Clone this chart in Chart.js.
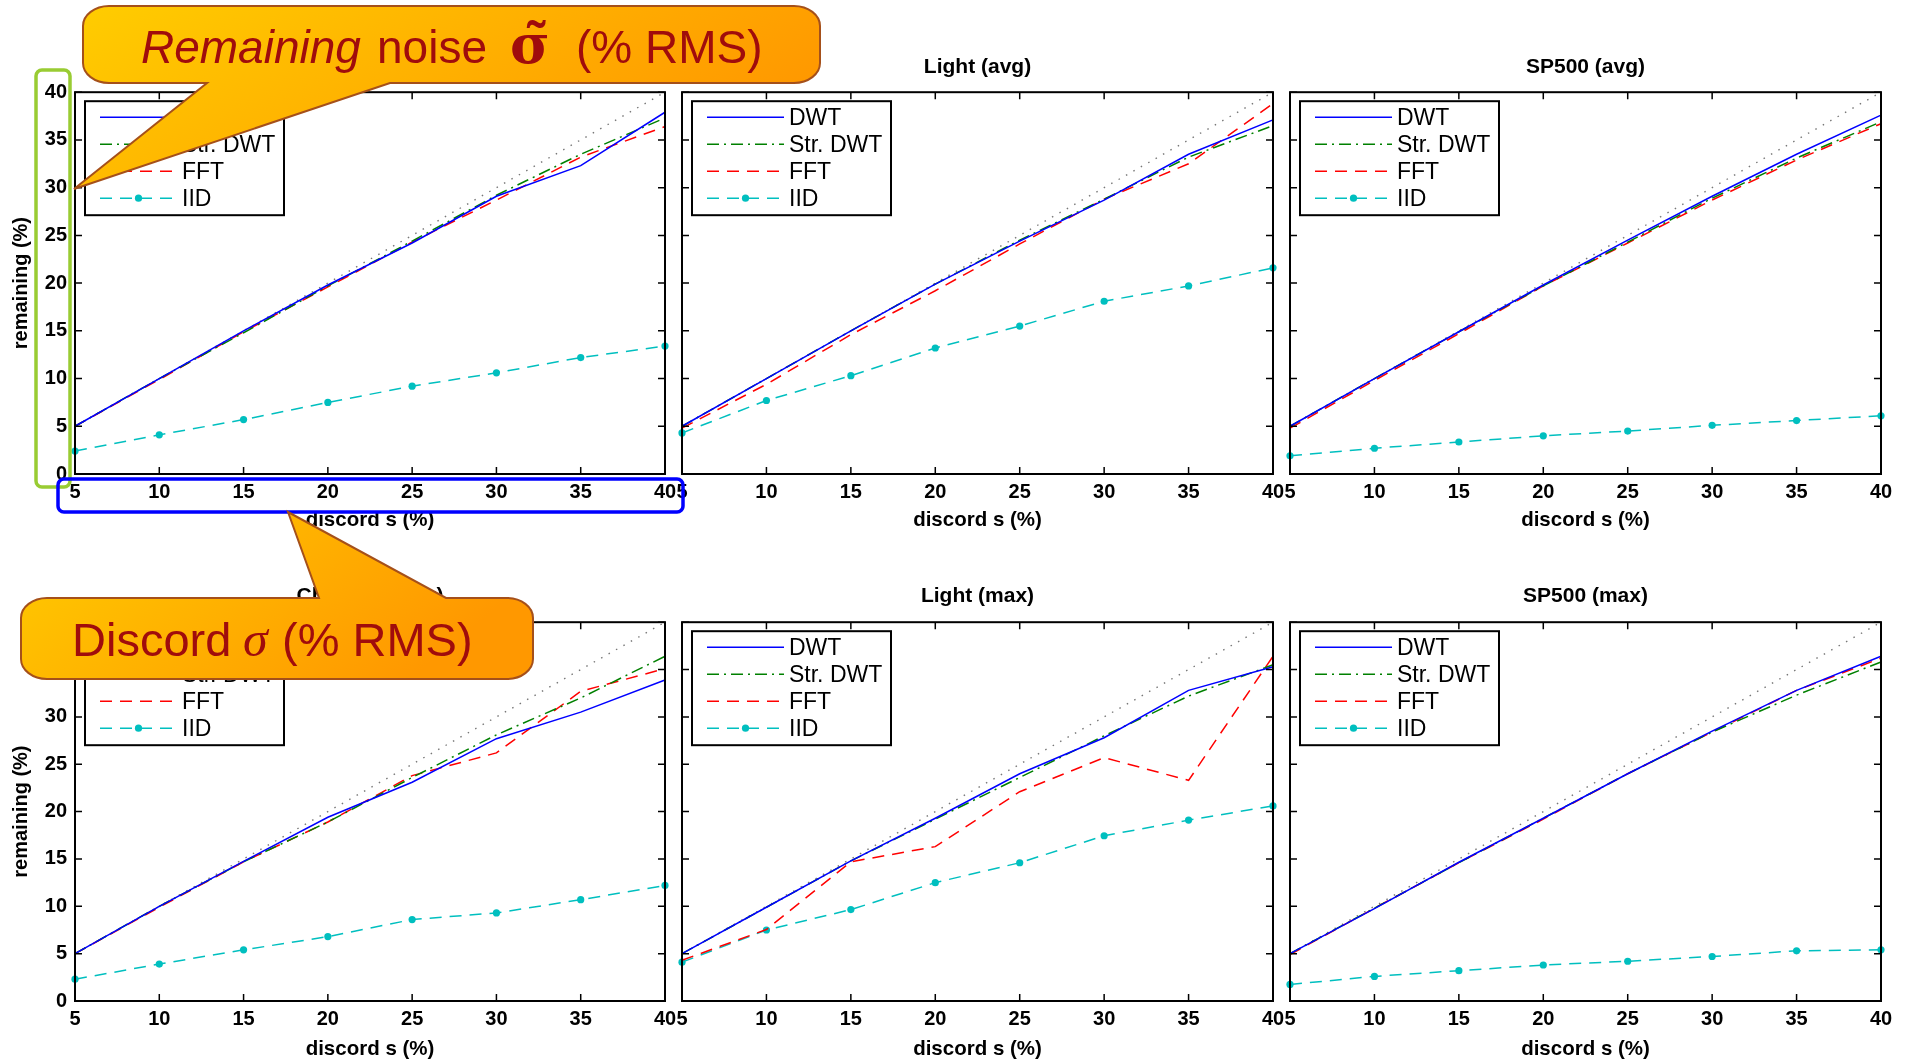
<!DOCTYPE html>
<html>
<head>
<meta charset="utf-8">
<title>Remaining noise vs discord</title>
<script src="https://cdn.jsdelivr.net/npm/chart.js@4.4.1/dist/chart.umd.min.js"></script>
<style>
  html, body { margin: 0; padding: 0; background: #fff; width: 1914px; height: 1064px; overflow: hidden; }
  canvas.panel { position: absolute; }
  #notes { position: absolute; left: 0; top: 0; pointer-events: none; z-index: 10; }
</style>
</head>
<body>
<canvas class="panel" id="p0" width="685" height="545" style="left:0px;top:0px"></canvas>
<canvas class="panel" id="p1" width="641" height="545" style="left:652px;top:0px"></canvas>
<canvas class="panel" id="p2" width="641" height="545" style="left:1260px;top:0px"></canvas>
<canvas class="panel" id="p3" width="685" height="519" style="left:0px;top:545px"></canvas>
<canvas class="panel" id="p4" width="641" height="519" style="left:652px;top:545px"></canvas>
<canvas class="panel" id="p5" width="641" height="519" style="left:1260px;top:545px"></canvas>

<svg id="notes" width="1914" height="1064" viewBox="0 0 1914 1064">
  <defs>
    <linearGradient id="calloutFill" x1="0" y1="0" x2="1" y2="0.4">
      <stop offset="0" stop-color="#ffcd00"/>
      <stop offset="1" stop-color="#ff9800"/>
    </linearGradient>
  </defs>
  <!-- highlight boxes around the tick labels -->
  <rect x="36" y="70" width="34" height="417" rx="6" ry="6" fill="none" stroke="#99cc33" stroke-width="3.5"/>
  <rect x="58" y="479" width="625" height="33" rx="6" ry="6" fill="none" stroke="#0000ff" stroke-width="3.5"/>
  <!-- callout for the vertical axis -->
  <path d="M 109 6 H 794 A 26 20 0 0 1 820 26 V 63 A 26 20 0 0 1 794 83 H 390 L 74 189 L 207 83 H 109 A 26 20 0 0 1 83 63 V 26 A 26 20 0 0 1 109 6 Z"
        fill="url(#calloutFill)" stroke="#a5501a" stroke-width="2"/>
  <text font-family="'Liberation Sans', Arial, sans-serif" font-size="46" fill="#a00c0c">
    <tspan x="141" y="63" font-style="italic">Remaining</tspan>
    <tspan x="377" y="63">noise</tspan>
    <tspan x="510" y="63" font-family="'DejaVu Serif', serif" font-weight="bold" font-size="54">σ̃</tspan>
    <tspan x="576" y="63">(% RMS)</tspan>
  </text>
  <!-- callout for the horizontal axis -->
  <path d="M 47 598 H 319 L 288 512 L 446 598 H 507 A 26 20 0 0 1 533 618 V 659 A 26 20 0 0 1 507 679 H 47 A 26 20 0 0 1 21 659 V 618 A 26 20 0 0 1 47 598 Z"
        fill="url(#calloutFill)" stroke="#a5501a" stroke-width="2"/>
  <text font-family="'Liberation Sans', Arial, sans-serif" font-size="47" fill="#a00c0c">
    <tspan x="72" y="656">Discord</tspan>
    <tspan x="243" y="656" font-family="'Liberation Serif', serif" font-style="italic" font-size="50">σ</tspan>
    <tspan x="282" y="656">(% RMS)</tspan>
  </text>
</svg>

<script>
// ---- data -------------------------------------------------------------
const DISCORD = [5, 10, 15, 20, 25, 30, 35, 40];          // discord s (%)
const X_TICKS = [5, 10, 15, 20, 25, 30, 35, 40];
const Y_TICKS = [0, 5, 10, 15, 20, 25, 30, 35, 40];
const SERIES_NAMES = ['DWT', 'Str. DWT', 'FFT', 'IID'];
const TITLES = ['Chlorine (avg)', 'Light (avg)', 'SP500 (avg)',
                'Chlorine (max)', 'Light (max)', 'SP500 (max)'];

// Chlorine (avg)
const chlorineAvgDWT    = [5.0, 10.0, 15.0, 19.8, 24.2, 29.1, 32.3, 37.9];
const chlorineAvgStrDWT = [5.0, 10.0, 14.8, 19.7, 24.4, 29.2, 33.5, 37.3];
const chlorineAvgFFT    = [5.0, 9.9, 14.9, 19.6, 24.3, 28.7, 33.2, 36.4];
const chlorineAvgIID    = [2.4, 4.1, 5.7, 7.5, 9.2, 10.6, 12.2, 13.4];
// Light (avg)
const lightAvgDWT    = [5.0, 10.0, 15.0, 19.9, 24.4, 28.7, 33.5, 37.1];
const lightAvgStrDWT = [5.0, 10.0, 15.0, 19.9, 24.5, 28.8, 33.2, 36.5];
const lightAvgFFT    = [4.8, 9.4, 14.6, 19.2, 24.1, 28.8, 32.5, 38.8];
const lightAvgIID    = [4.3, 7.7, 10.3, 13.2, 15.5, 18.1, 19.7, 21.6];
// SP500 (avg)
const spAvgDWT    = [5.0, 10.0, 14.9, 19.8, 24.5, 29.1, 33.5, 37.6];
const spAvgStrDWT = [5.0, 10.0, 14.9, 19.7, 24.3, 28.9, 33.1, 36.9];
const spAvgFFT    = [4.8, 9.8, 14.7, 19.7, 24.2, 28.7, 32.9, 36.7];
const spAvgIID    = [1.9, 2.7, 3.35, 4.0, 4.5, 5.1, 5.6, 6.1];
// Chlorine (max)
const chlorineMaxDWT    = [5.0, 10.0, 14.75, 19.4, 23.1, 27.7, 30.5, 33.9];
const chlorineMaxStrDWT = [5.0, 10.0, 14.7, 18.9, 23.6, 28.1, 32.0, 36.4];
const chlorineMaxFFT    = [5.0, 9.9, 14.7, 18.9, 23.8, 26.2, 32.7, 35.1];
const chlorineMaxIID    = [2.3, 3.9, 5.4, 6.8, 8.6, 9.3, 10.7, 12.2];
// Light (max)
const lightMaxDWT    = [5.0, 9.9, 14.8, 19.3, 24.0, 27.8, 32.8, 35.3];
const lightMaxStrDWT = [5.0, 9.9, 14.8, 19.2, 23.6, 28.0, 32.2, 35.5];
const lightMaxFFT    = [4.3, 7.55, 14.7, 16.3, 22.1, 25.7, 23.3, 36.4];
const lightMaxIID    = [4.1, 7.5, 9.65, 12.5, 14.6, 17.45, 19.1, 20.6];
// SP500 (max)
const spMaxDWT    = [5.0, 9.75, 14.65, 19.3, 24.0, 28.5, 32.8, 36.4];
const spMaxStrDWT = [5.0, 9.8, 14.6, 19.3, 24.0, 28.4, 32.3, 35.8];
const spMaxFFT    = [4.9, 9.8, 14.6, 19.2, 24.0, 28.4, 32.8, 36.2];
const spMaxIID    = [1.75, 2.6, 3.2, 3.8, 4.2, 4.7, 5.3, 5.4];

// ---- styling ----------------------------------------------------------
const FONT = "'Liberation Sans', Arial, Helvetica, sans-serif";
Chart.defaults.color = '#000';
Chart.defaults.font.family = FONT;

const STYLES = [
  { color: '#0000ff', dash: [] },                  // DWT
  { color: '#008000', dash: [12, 5, 2, 5] },       // Str. DWT
  { color: '#ff0000', dash: [12, 8] },             // FFT
  { color: '#00bfbf', dash: [12, 8], marker: 3.6 } // IID
];

// inward tick marks on all four sides plus the box
const frameTicks = {
  id: 'frameTicks',
  afterDatasetsDraw(chart) {
    const { ctx, chartArea: a, scales: { x, y } } = chart;
    const L = 7;
    ctx.save();
    ctx.strokeStyle = '#000';
    ctx.lineWidth = 1.5;
    ctx.beginPath();
    x.ticks.forEach(t => {
      const px = x.getPixelForValue(t.value);
      ctx.moveTo(px, a.bottom); ctx.lineTo(px, a.bottom - L);
      ctx.moveTo(px, a.top);    ctx.lineTo(px, a.top + L);
    });
    y.ticks.forEach(t => {
      const py = y.getPixelForValue(t.value);
      ctx.moveTo(a.left, py);  ctx.lineTo(a.left + L, py);
      ctx.moveTo(a.right, py); ctx.lineTo(a.right - L, py);
    });
    ctx.stroke();
    ctx.lineWidth = 2;
    ctx.strokeRect(a.left, a.top, a.right - a.left, a.bottom - a.top);
    ctx.restore();
  }
};

// boxed legend in the upper-left corner of the plot area
const insideLegend = {
  id: 'insideLegend',
  afterDraw(chart) {
    const { ctx, chartArea: a } = chart;
    const bx = a.left + 10, by = a.top + 9, bw = 199, bh = 114;
    ctx.save();
    ctx.fillStyle = '#fff';
    ctx.fillRect(bx, by, bw, bh);
    ctx.lineWidth = 2;
    ctx.strokeStyle = '#000';
    ctx.strokeRect(bx, by, bw, bh);
    const items = chart.data.datasets.filter(d => !d.reference);
    items.forEach((d, i) => {
      const cy = by + 16 + i * 27;
      const x0 = bx + 15, x1 = bx + 92;
      ctx.strokeStyle = d.borderColor;
      ctx.lineWidth = d.borderWidth;
      ctx.setLineDash(d.borderDash || []);
      ctx.beginPath();
      ctx.moveTo(x0, cy); ctx.lineTo(x1, cy);
      ctx.stroke();
      ctx.setLineDash([]);
      if (d.pointRadius > 0) {
        ctx.fillStyle = d.borderColor;
        ctx.beginPath();
        ctx.arc((x0 + x1) / 2, cy, d.pointRadius, 0, Math.PI * 2);
        ctx.fill();
      }
      ctx.fillStyle = '#000';
      ctx.font = '23px ' + FONT;
      ctx.textBaseline = 'middle';
      ctx.textAlign = 'left';
      ctx.fillText(d.label, bx + 97, cy + 1);
    });
    ctx.restore();
  }
};

function makePanel(id, title, series, opts) {
  const datasets = series.map((vals, i) => ({
    label: SERIES_NAMES[i],
    data: DISCORD.map((s, k) => ({ x: s, y: vals[k] })),
    borderColor: STYLES[i].color,
    backgroundColor: STYLES[i].color,
    borderDash: STYLES[i].dash,
    borderWidth: 1.5,
    pointRadius: STYLES[i].marker || 0,
    pointBorderWidth: 0,
    pointBackgroundColor: STYLES[i].color,
    tension: 0,
    clip: false
  }));
  // remaining = discord reference diagonal
  datasets.push({
    label: '',
    reference: true,
    data: DISCORD.map(s => ({ x: s, y: s })),
    borderColor: '#777777',
    borderDash: [1.5, 7],
    borderWidth: 1.4,
    pointRadius: 0,
    tension: 0
  });

  new Chart(document.getElementById(id), {
    type: 'line',
    data: { datasets },
    options: {
      responsive: false,
      animation: false,
      events: [],
      layout: { padding: { left: 0, right: 20, top: 0, bottom: 0 } },
      plugins: {
        legend: { display: false },
        tooltip: { enabled: false },
        title: {
          display: true,
          fullSize: false,
          text: title,
          font: { size: 21, weight: 'bold' },
          color: '#000',
          padding: { top: opts.titleTop, bottom: opts.titleBottom }
        }
      },
      scales: {
        x: {
          type: 'linear',
          min: 5, max: 40,
          afterBuildTicks: s => { s.ticks = X_TICKS.map(v => ({ value: v })); },
          ticks: { font: { size: 20, weight: 'bold' }, color: '#000', padding: 6,
                   autoSkip: false, maxRotation: 0 },
          grid: { display: false, drawTicks: false },
          border: { display: false },
          title: { display: true, text: 'discord s (%)', font: { size: 20.5, weight: 'bold' },
                   color: '#000', padding: { top: 0, bottom: opts.xTitleBottom } },
          afterFit: s => { s.height = opts.xHeight; }
        },
        y: {
          type: 'linear',
          min: 0, max: 40,
          afterBuildTicks: s => { s.ticks = Y_TICKS.map(v => ({ value: v })); },
          ticks: { display: opts.yLabels, font: { size: 20, weight: 'bold' }, color: '#000', padding: 8 },
          grid: { display: false, drawTicks: false },
          border: { display: false },
          title: { display: opts.yLabels, text: 'remaining (%)', font: { size: 20, weight: 'bold' },
                   color: '#000', padding: { top: 9, bottom: 0 } },
          afterFit: s => { s.width = opts.yWidth; }
        }
      }
    },
    plugins: [frameTicks, insideLegend]
  });
}

const TOP = { titleTop: 55, titleBottom: 12, xHeight: 71, xTitleBottom: 12 };
const BOTTOM = { titleTop: 39, titleBottom: 13, xHeight: 63, xTitleBottom: 2 };

makePanel('p0', TITLES[0], [chlorineAvgDWT, chlorineAvgStrDWT, chlorineAvgFFT, chlorineAvgIID],
          Object.assign({ yLabels: true, yWidth: 75 }, TOP));
makePanel('p1', TITLES[1], [lightAvgDWT, lightAvgStrDWT, lightAvgFFT, lightAvgIID],
          Object.assign({ yLabels: false, yWidth: 30 }, TOP));
makePanel('p2', TITLES[2], [spAvgDWT, spAvgStrDWT, spAvgFFT, spAvgIID],
          Object.assign({ yLabels: false, yWidth: 30 }, TOP));
makePanel('p3', TITLES[3], [chlorineMaxDWT, chlorineMaxStrDWT, chlorineMaxFFT, chlorineMaxIID],
          Object.assign({ yLabels: true, yWidth: 75 }, BOTTOM));
makePanel('p4', TITLES[4], [lightMaxDWT, lightMaxStrDWT, lightMaxFFT, lightMaxIID],
          Object.assign({ yLabels: false, yWidth: 30 }, BOTTOM));
makePanel('p5', TITLES[5], [spMaxDWT, spMaxStrDWT, spMaxFFT, spMaxIID],
          Object.assign({ yLabels: false, yWidth: 30 }, BOTTOM));
</script>
</body>
</html>
